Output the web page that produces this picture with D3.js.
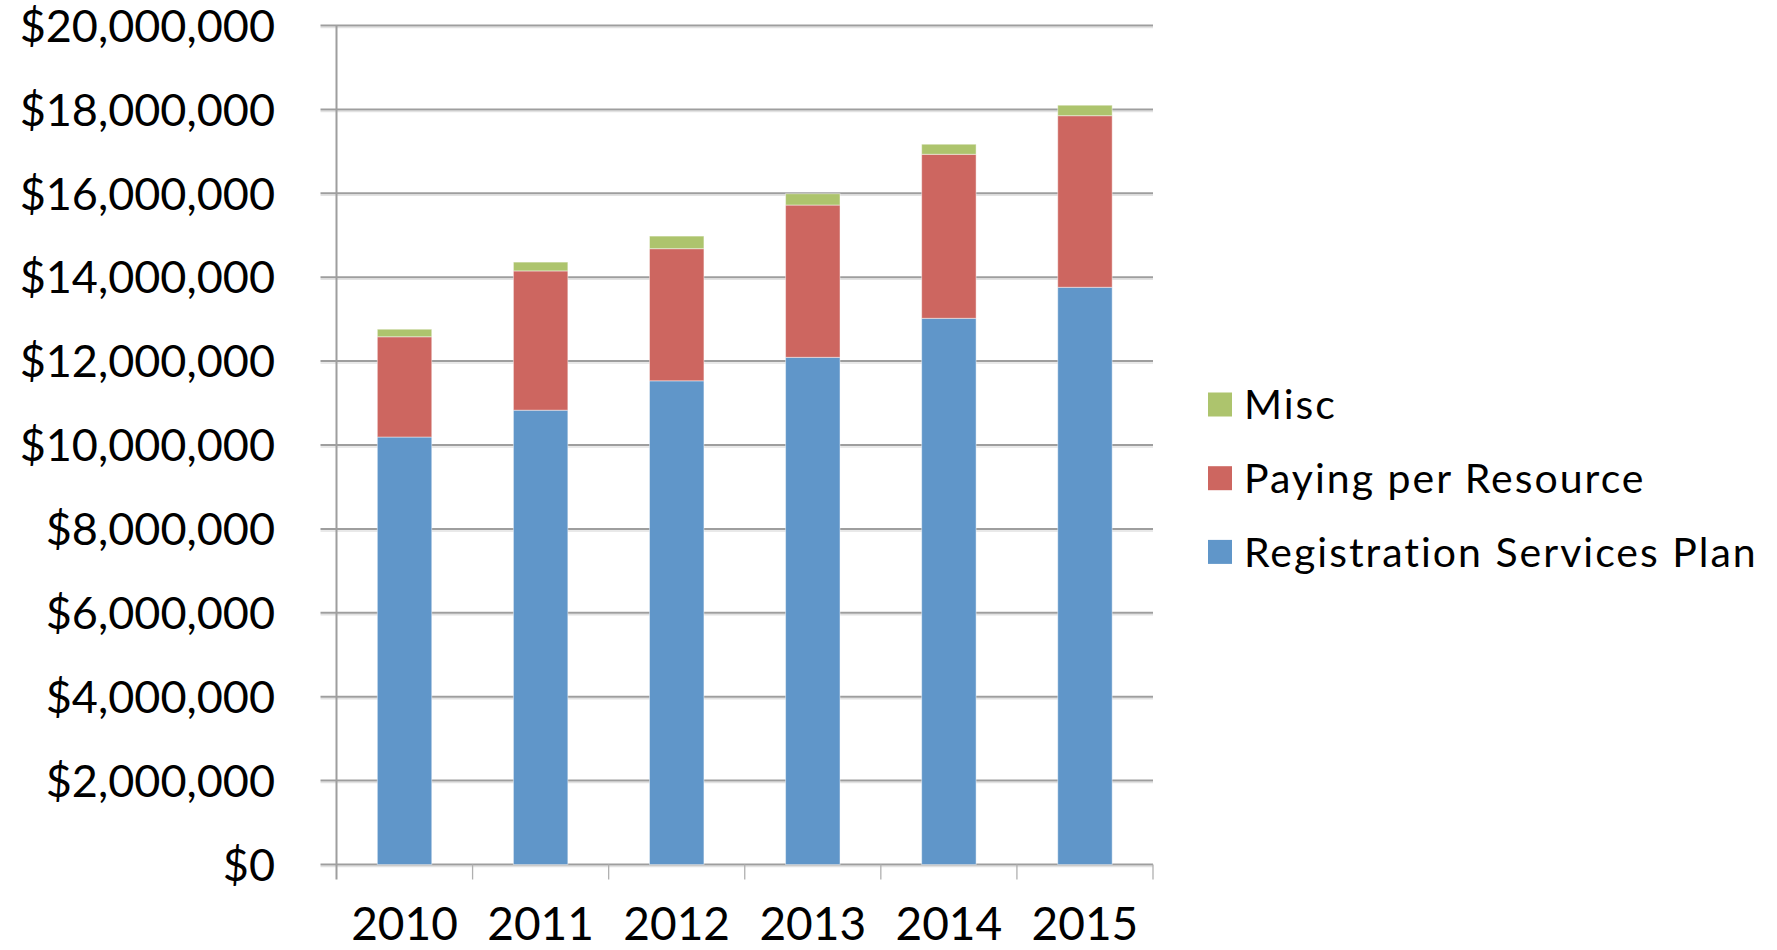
<!DOCTYPE html>
<html>
<head>
<meta charset="utf-8">
<script src="https://cdn.jsdelivr.net/npm/d3@7"></script>
<style>
  body { margin: 0; background: #fff; }
  text { font-family: Lato, "Open Sans", sans-serif; fill: #000; }
</style>
</head>
<body>
<svg width="1777" height="950"></svg>
<script>
// data
var years = ["2010", "2011", "2012", "2013", "2014", "2015"];
var registration = [10190000, 10830000, 11530000, 12090000, 13020000, 13760000];
var payingPerResource = [2390000, 3320000, 3150000, 3630000, 3910000, 4090000];
var misc = [180000, 210000, 300000, 270000, 240000, 250000];
var yTicks = [0, 2000000, 4000000, 6000000, 8000000, 10000000, 12000000, 14000000, 16000000, 18000000, 20000000];

var seriesNames = ["Registration Services Plan", "Paying per Resource", "Misc"];
var colors = ["#6096c9", "#cd6660", "#adc46d"];

var svg = d3.select("svg");

var plotLeft = 336.5, plotRight = 1153, plotTop = 25.5, plotBottom = 864.5;

var x = d3.scaleBand().domain(years).range([plotLeft, plotRight]).paddingInner(0).paddingOuter(0);
var y = d3.scaleLinear().domain([0, 20000000]).range([plotBottom, plotTop]);

// stack the three series
var table = years.map(function(yr, i) {
    return {year: yr, "Registration Services Plan": registration[i],
            "Paying per Resource": payingPerResource[i], "Misc": misc[i]};
});
var stacked = d3.stack().keys(seriesNames)(table);

// gridlines (with a faint shadow like the original)
var grid = svg.append("g");
grid.selectAll("line.shadow")
    .data(yTicks)
    .join("line")
    .attr("class", "shadow")
    .attr("x1", plotLeft - 16).attr("x2", plotRight)
    .attr("y1", d => y(d) + 2).attr("y2", d => y(d) + 2)
    .attr("stroke", "#e2e2e2").attr("stroke-width", 1.5);
grid.selectAll("line.grid")
    .data(yTicks)
    .join("line")
    .attr("class", "grid")
    .attr("x1", plotLeft - 16).attr("x2", plotRight)
    .attr("y1", d => y(d)).attr("y2", d => y(d))
    .attr("stroke", "#9e9e9e").attr("stroke-width", 2);

// y axis line
svg.append("line")
    .attr("x1", plotLeft).attr("x2", plotLeft)
    .attr("y1", plotTop).attr("y2", plotBottom + 15)
    .attr("stroke", "#9e9e9e").attr("stroke-width", 2);

// category tick marks
var bounds = years.map(d => x(d)).concat([plotRight]);
svg.append("g").selectAll("line")
    .data(bounds.slice(1))
    .join("line")
    .attr("x1", d => d).attr("x2", d => d)
    .attr("y1", plotBottom).attr("y2", plotBottom + 15)
    .attr("stroke", "#b0b0b0").attr("stroke-width", 1.3);

// y tick labels
var fmt = d3.format("$,.0f");
svg.append("g").selectAll("text")
    .data(yTicks)
    .join("text")
    .attr("x", 275)
    .attr("y", d => y(d))
    .attr("dy", "0.36em")
    .attr("text-anchor", "end")
    .attr("font-size", "45px")
    .text(d => fmt(d));

// x labels
svg.append("g").selectAll("text")
    .data(years)
    .join("text")
    .attr("x", d => x(d) + x.bandwidth() / 2)
    .attr("y", 940)
    .attr("text-anchor", "middle")
    .attr("font-size", "46px")
    .text(d => d);

// bars
var barW = x.bandwidth() * 0.4;
svg.append("g").selectAll("g")
    .data(stacked)
    .join("g")
    .attr("fill", (d, i) => colors[i])
    .selectAll("rect")
    .data(d => d)
    .join("rect")
    .attr("x", d => x(d.data.year) + (x.bandwidth() - barW) / 2)
    .attr("y", d => y(d[1]))
    .attr("width", barW)
    .attr("height", d => y(d[0]) - y(d[1]))
    .attr("stroke", "rgba(255,255,255,0.45)")
    .attr("stroke-width", 1);

// legend (Misc on top)
var legendItems = seriesNames.slice().reverse();
var legend = svg.append("g").selectAll("g")
    .data(legendItems)
    .join("g")
    .attr("transform", (d, i) => "translate(1208," + (392.5 + i * 73.7) + ")");
legend.append("rect")
    .attr("width", 24).attr("height", 24)
    .attr("fill", d => colors[seriesNames.indexOf(d)]);
legend.append("text")
    .attr("x", 36)
    .attr("y", 12)
    .attr("dy", "0.36em")
    .attr("font-size", "41px")
    .attr("letter-spacing", "2px")
    .text(d => d);
</script>
</body>
</html>
